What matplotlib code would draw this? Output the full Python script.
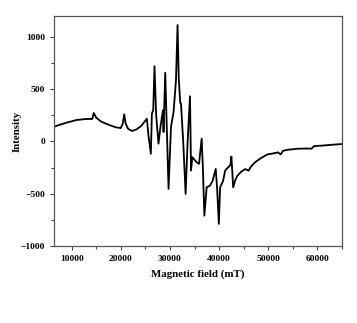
import matplotlib
matplotlib.use("Agg")
import matplotlib.pyplot as plt
from matplotlib.ticker import MultipleLocator

# EPR spectrum, values
field = [6400, 7500, 9000, 11000, 13000, 14200, 14500, 15000, 16000, 17500,
         19000, 20000, 20400, 20700, 21000, 21500, 22300, 23200, 24200, 25300,
         25630, 26120, 26330, 26600, 26860, 27200, 27670, 28100, 28570, 28700,
         29040, 29350, 29720, 30210, 30740, 31230, 31550, 31800, 32100, 32250,
         32700, 33190, 33600, 34080, 34290, 34550, 35430, 35920, 36450, 36700,
         37000, 37470, 38170, 38700, 39310, 39600, 39950, 40210, 40800, 41230,
         41800, 42300, 42500, 42700, 42860, 43300, 43700, 44500, 45300, 46000,
         46500, 47300, 48500, 49800, 51000, 52000, 52500, 53000, 54000, 56000,
         58000, 58800, 59300, 61000, 63000, 65000]
intensity = [140, 158, 180, 205, 215, 215, 272, 228, 190, 160,
             135, 128, 170, 260, 170, 120, 100, 115, 150, 218,
             58, -119, 266, 300, 721, 250, -22, 150, 298, 90,
             657, 150, -455, 138, 282, 587, 1115, 600, 368, 362,
             0, -503, 0, 433, -279, -151, -199, -215, 26, -250,
             -711, -439, -423, -375, -263, -450, -790, -439, -380, -279,
             -250, -225, -145, -300, -440, -370, -330, -290, -265, -280,
             -240, -200, -160, -125, -115, -105, -125, -90, -80, -70,
             -68, -70, -45, -40, -32, -25]

plt.rcParams["font.family"] = ["Liberation Serif", "DejaVu Serif"]
plt.rcParams["font.weight"] = "bold"

fig = plt.figure(figsize=(3.57, 3.23), dpi=100)
ax = fig.add_axes([0.151, 0.239, 0.807, 0.711])

ax.plot(field, intensity, color="black", linewidth=1.3)

ax.set_xlim(6400, 65000)
ax.set_ylim(-1000, 1200)
ax.xaxis.set_major_locator(MultipleLocator(10000))
ax.xaxis.set_minor_locator(MultipleLocator(5000))
ax.yaxis.set_major_locator(MultipleLocator(500))
ax.yaxis.set_minor_locator(MultipleLocator(250))

ax.tick_params(which="both", direction="out", colors="#444444", labelcolor="black",
               labelsize=6.8, width=0.8)
ax.tick_params(which="major", length=3)
ax.tick_params(which="minor", length=2)
for lab in ax.get_xticklabels() + ax.get_yticklabels():
    lab.set_fontweight("bold")
for s in ax.spines.values():
    s.set_color("#555555")
    s.set_linewidth(0.9)

ax.set_xlabel("Magnetic field (mT)", fontsize=7.8, fontweight="bold", labelpad=5)
ax.set_ylabel("Intensity", fontsize=7.8, fontweight="bold", labelpad=-1)

fig.savefig("out.png", dpi=100)
